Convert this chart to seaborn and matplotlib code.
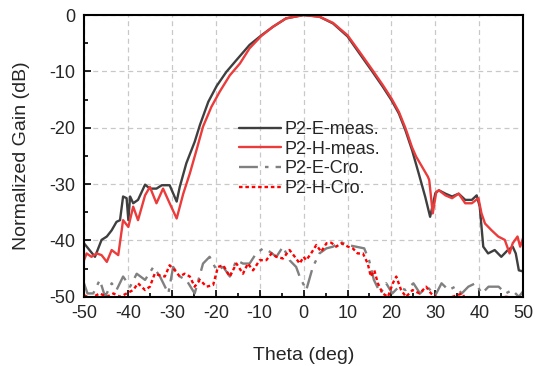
import numpy as np
import pandas as pd
import matplotlib
matplotlib.use("Agg")
import matplotlib.pyplot as plt
import seaborn as sns
from matplotlib.ticker import MultipleLocator

# --- datos ---
theta_e = [-50, -47.5, -46.0, -44.8, -43.7, -42.6, -41.8, -41.1, -40.3, -39.9, -39.5, -38.8,
           -37.7, -36.1, -35.0, -33.5, -32.3, -30.5, -28.9, -28.2, -26.7, -24.8, -23.6, -21.7,
           -19.8, -17.6, -15.3, -12.3, -9.6, -7.0, -4.0, 0, 3.6, 6.7, 10, 12.7, 15.7, 18, 20,
           21.7, 23.2, 24.7, 26.2, 27.7, 28.8, 30.0, 30.8, 32.3, 33.8, 35.3, 36.8, 38.3, 39.4,
           40.1, 40.9, 42.0, 43.5, 45.0, 46.5, 47.6, 48.3, 49.0, 50]
gain_e = [-40.5, -42.9, -39.9, -39.3, -38.2, -36.7, -36.4, -32.2, -32.5, -36.4, -32.2, -33.4,
          -32.8, -30.1, -30.8, -30.8, -30.2, -30.2, -33.1, -30.5, -26.3, -22.5, -19.5, -15.4,
          -12.6, -10.1, -8.0, -5.3, -3.6, -2.1, -0.6, 0, -0.3, -1.5, -3.8, -6.8, -10.1, -12.7,
          -15.1, -17.5, -20.5, -24.0, -28.1, -32.3, -35.8, -31.6, -31.1, -31.7, -32.2, -31.7,
          -32.8, -32.8, -32.0, -34.0, -41.1, -42.3, -41.7, -42.9, -41.7, -41.1, -42.3, -45.3, -45.5]

theta_h = [-50, -49.4, -48.3, -47.1, -46.0, -44.8, -43.7, -42.2, -41.1, -39.9, -38.8, -37.7,
           -36.1, -35.0, -33.5, -32.0, -30.5, -28.9, -27.4, -25.9, -24.4, -22.9, -21.0, -19.1,
           -16.8, -14.5, -12.3, -9.6, -7.0, -4.0, 0, 3.6, 6.7, 10, 12.7, 15.7, 18, 20, 21.7,
           23.2, 24.7, 25.6, 28.3, 28.6, 29.4, 30.2, 30.8, 32.3, 33.8, 35.3, 36.8, 38.3, 39.8,
           40.5, 41.3, 42.8, 44.3, 45.8, 46.9, 47.6, 48.7, 49.3, 50]
gain_h = [-43.5, -42.3, -42.9, -42.3, -42.6, -43.8, -41.7, -42.6, -36.4, -37.6, -34.0, -36.4,
          -32.0, -30.5, -33.4, -30.8, -33.4, -36.1, -31.7, -28.1, -24.0, -19.8, -16.3, -13.6,
          -10.7, -8.6, -5.9, -3.7, -2.1, -0.6, 0, -0.3, -1.4, -3.6, -6.5, -9.8, -12.4, -14.8,
          -17.2, -20.1, -23.5, -25.1, -28.7, -29.3, -35.2, -31.4, -31.1, -32.0, -32.5, -31.7,
          -33.4, -33.4, -32.5, -35.2, -37.0, -38.2, -39.3, -39.9, -42.3, -40.5, -39.3, -41.1, -39.5]

theta_ec = [-50, -49.2, -47.9, -46.4, -45.2, -43.7, -42.6, -41.1, -39.5, -38.0, -36.1, -34.2,
            -32.7, -30.8, -29.7, -28.2, -26.7, -24.8, -22.9, -21.4, -19.8, -18.3, -16.8, -15.3,
            -13.8, -12.3, -10.8, -9.2, -7.7, -6.2, -4.7, -3.2, -1.7, -0.9, 0.6, 2.1, 3.6, 5.2,
            6.7, 8.2, 10, 11.9, 13.8, 14.9, 16.0, 17.5, 18.8, 20.2, 21.7, 23.2, 25.0, 26.5, 28.1,
            30.0, 31.4, 33.0, 34.5, 36.0, 37.5, 39.1, 40.6, 42.1, 44.4, 46.0, 47.5, 49.0, 50]
gain_ec = [-47.6, -49.4, -49.4, -47.0, -50.0, -47.6, -48.8, -46.4, -48.2, -45.9, -47.0, -44.7,
           -46.4, -49.4, -44.7, -46.4, -47.0, -49.4, -44.1, -42.9, -45.3, -44.7, -46.4, -43.5,
           -44.1, -44.1, -42.3, -41.4, -42.0, -42.9, -41.1, -43.5, -44.7, -46.4, -48.8, -44.7,
           -42.3, -41.4, -41.1, -40.2, -40.8, -41.1, -41.4, -43.5, -47.0, -49.4, -47.6, -49.4,
           -48.2, -48.8, -47.6, -49.4, -48.2, -49.7, -47.6, -48.8, -48.2, -49.4, -48.2, -47.6,
           -49.4, -48.2, -48.2, -49.4, -48.8, -50.0, -49.0]

theta_hc = [-50, -48.5, -47.9, -46.4, -44.8, -43.3, -41.8, -40.3, -38.8, -37.7, -36.1, -35.0,
            -33.9, -32.7, -31.6, -30.5, -29.3, -28.2, -27.1, -25.9, -24.8, -23.6, -22.1, -20.6,
            -19.5, -18.3, -16.8, -15.3, -13.8, -12.7, -11.5, -10.0, -8.5, -7.3, -6.2, -4.7, -3.2,
            -1.7, -0.9, 0, 0.6, 1.7, 2.9, 4.0, 5.2, 6.3, 7.4, 8.6, 10.1, 11.2, 12.3, 13.5, 14.6,
            15.3, 16.1, 16.9, 18.0, 19.2, 20.3, 21.1, 22.2, 23.3, 24.8, 26.4, 27.9, 29.0, 30.2,
            31.7, 36.1, 37.0, 46.1, 50]
gain_hc = [-49.7, -50.3, -50.0, -49.4, -50.0, -49.4, -50.0, -49.4, -48.8, -47.6, -48.8, -48.2,
           -45.9, -46.2, -46.4, -44.4, -45.3, -46.4, -45.9, -46.4, -48.2, -47.0, -48.2, -47.9,
           -44.7, -44.4, -46.4, -44.1, -45.9, -44.1, -45.3, -43.5, -43.5, -42.3, -42.9, -43.2,
           -41.7, -43.2, -44.1, -42.9, -43.5, -42.3, -40.8, -42.0, -40.5, -40.4, -41.1, -40.5,
           -41.1, -41.4, -42.3, -42.3, -44.1, -46.4, -45.3, -47.6, -49.4, -50.0, -47.6, -46.4,
           -48.8, -50.0, -48.8, -49.4, -48.2, -49.4, -50.0, -50.6, -49.4, -50.6, -50.0, -50.3]

sns.set_style("ticks")
plt.rcParams["font.family"] = ["Liberation Sans", "DejaVu Sans"]
plt.rcParams["axes.unicode_minus"] = False

fig = plt.figure(figsize=(5.35, 3.66), dpi=100)
ax = fig.add_axes([0.157, 0.189, 0.821, 0.770])

ax.grid(True, which="major", color="#c8c8c8", linestyle=(0, (4, 3)), linewidth=0.9)
ax.set_axisbelow(True)

sns.lineplot(x=theta_e, y=gain_e, ax=ax, color="#3f3f3f", linewidth=1.7,
             label="P2-E-meas.", sort=False)
sns.lineplot(x=theta_h, y=gain_h, ax=ax, color="#ec3b3b", linewidth=1.7,
             label="P2-H-meas.", sort=False)
sns.lineplot(x=theta_ec, y=gain_ec, ax=ax, color="#808080", linewidth=1.7,
             label="P2-E-Cro.", sort=False)
sns.lineplot(x=theta_hc, y=gain_hc, ax=ax, color="#ff0000", linewidth=1.7,
             label="P2-H-Cro.", sort=False)
ax.lines[2].set_linestyle((0, (8, 3, 1.5, 3)))
ax.lines[3].set_linestyle((0, (1.5, 1.2)))

ax.set_xlim(-50, 50)
ax.set_ylim(-50, 0)
ax.xaxis.set_major_locator(MultipleLocator(10))
ax.xaxis.set_minor_locator(MultipleLocator(5))
ax.yaxis.set_major_locator(MultipleLocator(10))
ax.yaxis.set_minor_locator(MultipleLocator(5))
ax.tick_params(which="both", direction="in", top=False, right=False, labelsize=13,
               color="black", width=1.2)
ax.tick_params(which="major", length=5, pad=6)
ax.tick_params(which="minor", length=3)
for s in ax.spines.values():
    s.set_color("black")
    s.set_linewidth(1.5)

ax.set_xlabel("Theta (deg)", fontsize=14, labelpad=18)
ax.set_ylabel("Normalized Gain (dB)", fontsize=14, labelpad=14)

leg = ax.legend(loc="upper left", bbox_to_anchor=(0.353, 0.623), frameon=False, fontsize=13,
                handlelength=2.3, handletextpad=0.2, labelspacing=0.14, borderaxespad=0,
                borderpad=0)

fig.savefig("out.png", dpi=100)
